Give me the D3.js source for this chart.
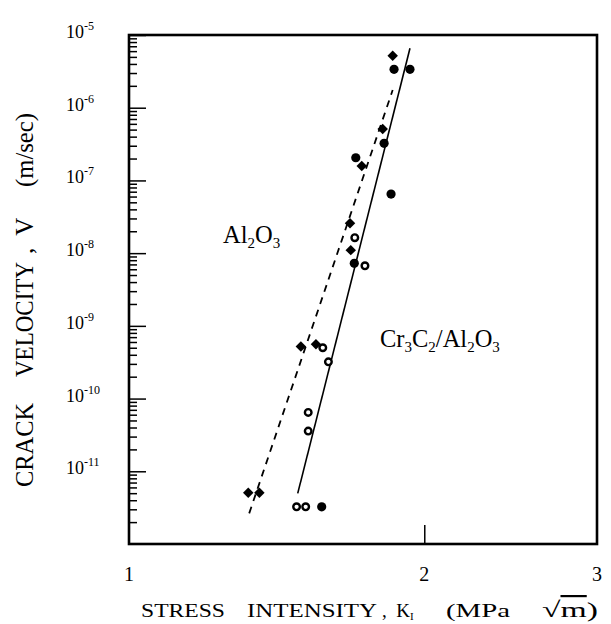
<!DOCTYPE html>
<html>
<head>
<meta charset="utf-8">
<script src="https://d3js.org/d3.v7.min.js"></script>
<style>
  body { margin: 0; background: #fff; }
  text { font-family: "Liberation Serif", "Times New Roman", serif; fill: #000; }
</style>
</head>
<body>
<script>
// Al2O3 (diamonds)
const alK = [1.857, 1.814, 1.727, 1.680, 1.683, 1.497, 1.551, 1.323, 1.358];
const alV = [5.2e-6, 5.1e-7, 1.58e-7, 2.57e-8, 1.1e-8, 5.2e-10, 5.6e-10, 5.06e-12, 5.06e-12];

// Cr3C2/Al2O3 filled circles
const crK = [1.863, 1.934, 1.820, 1.703, 1.850, 1.697, 1.572];
const crV = [3.37e-6, 3.37e-6, 3.24e-7, 2.05e-7, 6.5e-8, 7.24e-9, 3.25e-12];

// Cr3C2/Al2O3 open circles
const openK = [1.699, 1.740, 1.576, 1.597, 1.523, 1.523, 1.482, 1.514];
const openV = [1.63e-8, 6.7e-9, 5.0e-10, 3.2e-10, 6.45e-11, 3.57e-11, 3.25e-12, 3.25e-12];

// fitted lines (end points)
const fitAlK = [1.326, 1.857];
const fitAlV = [2.64e-12, 1.75e-6];
const fitCrK = [1.486, 1.934];
const fitCrV = [4.97e-12, 6.56e-6];

const xTicks = [1, 2, 3];
const yDecades = [-5, -6, -7, -8, -9, -10, -11];

const margin = {top: 35, right: 14, bottom: 80, left: 129};
const width = 611 - margin.left - margin.right;
const height = 624 - margin.top - margin.bottom;

const svg = d3.select("body").append("svg")
  .attr("width", 611)
  .attr("height", 624);

const g = svg.append("g")
  .attr("transform", "translate(" + margin.left + "," + margin.top + ")");

const x = d3.scaleLog().domain([1, 3]).range([0, width]);
const y = d3.scaleLog().domain([1e-12, 1e-5]).range([height, 0]);

// frame
g.append("rect")
  .attr("width", width).attr("height", height)
  .attr("fill", "none").attr("stroke", "#000").attr("stroke-width", 2.6);

// left axis: minor ticks inward
const minor = [];
for (let e = -12; e < -5; e++) {
  for (let m = 2; m <= 9; m++) minor.push(m * Math.pow(10, e));
}
g.append("g")
  .call(d3.axisRight(y).tickValues(minor).tickSize(8).tickSizeOuter(0).tickFormat(""))
  .call(a => a.select(".domain").remove())
  .selectAll("line").attr("stroke-width", 1.5);

g.append("g")
  .call(d3.axisRight(y).tickValues(yDecades.map(e => Math.pow(10, e))).tickSize(17).tickSizeOuter(0).tickFormat(""))
  .call(a => a.select(".domain").remove())
  .selectAll("line").attr("stroke-width", 1.5);

// y tick labels with superscripts
const yl = svg.append("g").selectAll("text")
  .data(yDecades).join("text")
  .attr("x", 66)
  .attr("y", d => margin.top + y(Math.pow(10, d)) + 3)
  .attr("font-size", 18);
yl.append("tspan").text("10");
yl.append("tspan").attr("font-size", 12).attr("dy", -8).text(d => d);

// bottom axis: one tick at 2, pointing up
g.append("g")
  .attr("transform", "translate(0," + height + ")")
  .call(d3.axisBottom(x).tickValues([2]).tickSizeInner(-19).tickSizeOuter(0).tickFormat(""))
  .call(a => a.select(".domain").remove())
  .selectAll("line").attr("stroke-width", 1.5);

svg.append("g").selectAll("text")
  .data(xTicks).join("text")
  .attr("x", d => margin.left + x(d))
  .attr("y", 581)
  .attr("text-anchor", "middle")
  .attr("font-size", 20)
  .text(d => d);

// fit lines
const line = d3.line().x(d => x(d[0])).y(d => y(d[1]));
g.append("path")
  .datum(d3.zip(fitAlK, fitAlV))
  .attr("d", line)
  .attr("fill", "none").attr("stroke", "#000").attr("stroke-width", 1.8)
  .attr("stroke-dasharray", "7,6");
g.append("path")
  .datum(d3.zip(fitCrK, fitCrV))
  .attr("d", line)
  .attr("fill", "none").attr("stroke", "#000").attr("stroke-width", 1.6);

// markers
g.append("g").selectAll("path")
  .data(d3.zip(alK, alV)).join("path")
  .attr("transform", d => "translate(" + x(d[0]) + "," + y(d[1]) + ")")
  .attr("d", d3.symbol(d3.symbolDiamond2, 70))
  .attr("fill", "#000");

g.append("g").selectAll("circle")
  .data(d3.zip(crK, crV)).join("circle")
  .attr("cx", d => x(d[0])).attr("cy", d => y(d[1]))
  .attr("r", 4.6).attr("fill", "#000");

g.append("g").selectAll("circle")
  .data(d3.zip(openK, openV)).join("circle")
  .attr("cx", d => x(d[0])).attr("cy", d => y(d[1]))
  .attr("r", 3.3).attr("fill", "#fff")
  .attr("stroke", "#000").attr("stroke-width", 2.4);

// annotations
function chem(parent, xPos, yPos, parts) {
  const t = parent.append("text").attr("x", xPos).attr("y", yPos).attr("font-size", 24.5);
  let down = false;
  parts.forEach(p => {
    const sub = /^\d$/.test(p);
    const ts = t.append("tspan").text(p);
    if (sub) { ts.attr("font-size", 15).attr("dy", 5); down = true; }
    else if (down) { ts.attr("dy", -5); down = false; }
  });
  return t;
}
chem(svg, 223, 243, ["Al", "2", "O", "3"]);
chem(svg, 380, 347, ["Cr", "3", "C", "2", "/Al", "2", "O", "3"]);

// x axis title, piece by piece
const xt = svg.append("g").attr("font-size", 19);
xt.append("text").attr("x", 141).attr("y", 617).attr("textLength", 84)
  .attr("lengthAdjust", "spacingAndGlyphs").text("STRESS");
xt.append("text").attr("x", 247).attr("y", 617).attr("textLength", 130)
  .attr("lengthAdjust", "spacingAndGlyphs").text("INTENSITY");
const kt = xt.append("text").attr("x", 382).attr("y", 617).style("white-space", "pre");
kt.append("tspan").text(",  K");
kt.append("tspan").attr("font-size", 11).attr("dy", 3).text("I");
xt.append("text").attr("x", 446).attr("y", 617).attr("textLength", 64)
  .attr("lengthAdjust", "spacingAndGlyphs").text("(MPa");
const rt = xt.append("text").attr("x", 542).attr("y", 617).attr("font-size", 22)
  .attr("textLength", 56).attr("lengthAdjust", "spacingAndGlyphs");
rt.append("tspan").text("\u221A");
rt.append("tspan").style("text-decoration", "overline").text("m");
rt.append("tspan").text(")");

// y axis title, rotated
const yt = svg.append("g").attr("transform", "translate(33,0) rotate(-90)").attr("font-size", 25);
yt.append("text").attr("x", -487).attr("y", 0).attr("textLength", 84)
  .attr("lengthAdjust", "spacingAndGlyphs").text("CRACK");
yt.append("text").attr("x", -377).attr("y", 0).attr("textLength", 115)
  .attr("lengthAdjust", "spacingAndGlyphs").text("VELOCITY");
yt.append("text").attr("x", -254).attr("y", 0).style("white-space", "pre").text(",  V");
yt.append("text").attr("x", -187).attr("y", 0).attr("textLength", 74)
  .attr("lengthAdjust", "spacingAndGlyphs").text("(m/sec)");
</script>
</body>
</html>
